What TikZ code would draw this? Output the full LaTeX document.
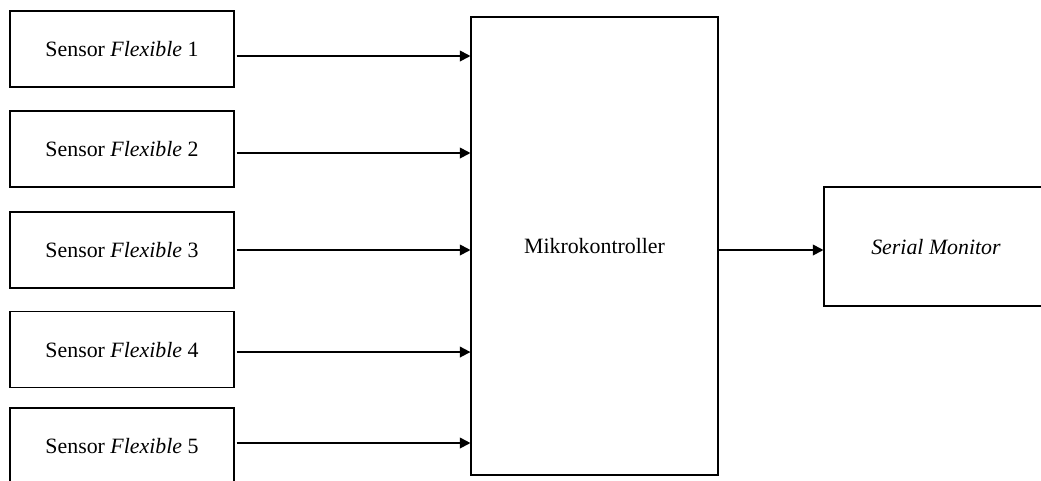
\documentclass[tikz,border=0pt]{standalone}
\usepackage{fontspec}
\setmainfont{Liberation Serif}
\usetikzlibrary{arrows.meta}
\begin{document}
\begin{tikzpicture}[x=0.75pt,y=-0.75pt,
  blk/.style={draw, line width=0.8pt, rectangle, inner sep=0pt, minimum width=168pt, minimum height=57pt, text height=11.5pt, text depth=0pt, font=\fontsize{16.4}{19}\selectfont},
  arr/.style={line width=1.4pt, -{Triangle[length=8pt,width=8pt]}, shorten <=1.5pt}]
\clip (0,0) rectangle (1041,480);
\fill[white] (0,0) rectangle (1041,480);
\node[blk] (s1) at (122,49) {Sensor \textit{Flexible} 1};
\node[blk] (s2) at (122,149) {Sensor \textit{Flexible} 2};
\node[blk] (s3) at (122,250) {Sensor \textit{Flexible} 3};
\node[blk] (s4) at (122,349.5) {Sensor \textit{Flexible} 4};
\node[blk] (s5) at (122,446) {Sensor \textit{Flexible} 5};
\node[blk, minimum width=185.25pt, minimum height=343.5pt, text height=10.5pt] (mk) at (594.5,246) {Mikrokontroller};
\node[blk, minimum height=89.25pt, text height=12.5pt] (sm) at (936,246.5) {\textit{Serial Monitor}};
\draw[arr] ([yshift=-5.25pt]s1.east) -- ([yshift=-5.25pt]s1.east -| mk.west);
\draw[arr] ([yshift=-3pt]s2.east) -- ([yshift=-3pt]s2.east -| mk.west);
\draw[arr] (s3.east) -- (s3.east -| mk.west);
\draw[arr] ([yshift=-1.9pt]s4.east) -- ([yshift=-1.9pt]s4.east -| mk.west);
\draw[arr] ([yshift=2.25pt]s5.east) -- ([yshift=2.25pt]s5.east -| mk.west);
\draw[arr, shorten <=0pt] ([yshift=-3pt]mk.east) -- ([yshift=-3pt]mk.east -| sm.west);
\end{tikzpicture}
\end{document}
